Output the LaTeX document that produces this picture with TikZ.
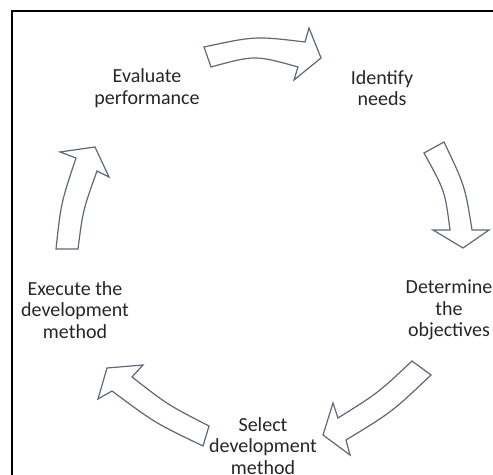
\documentclass[tikz,border=0pt]{standalone}
\usepackage{fontspec}
\setmainfont{Carlito}
\definecolor{arrowgrey}{HTML}{5E6878}
\definecolor{textgrey}{HTML}{262626}

\begin{document}
\begin{tikzpicture}[x=0.5pt,y=-0.5pt,
  blockarrow/.style={draw=arrowgrey,fill=white,line width=0.6pt,line join=miter},
  stage/.style={align=center,text=textgrey,inner sep=0pt,
    font=\fontsize{10}{10.8}\selectfont}]
\useasboundingbox (0,0) rectangle (493,475);
\clip (0,0) rectangle (493,475);
\draw[line width=1pt] (12,11) rectangle (540,520);
% the five stages
\node[stage] (evaluate)  at (147,88)  {Evaluate\\performance};
\node[stage] (identify)  at (382,88)  {Identify\\needs};
\node[stage] (determine) at (449,310) {Determine\\the\\objectives};
\node[stage] (select)    at (263,446) {Select\\development\\method};
\node[stage] (execute)   at (75,310)  {Execute the\\development\\method};
% block arrows round the cycle
\filldraw[blockarrow] (204,47) .. controls (255,36) .. (305,42) -- (309,28)
  -- (321,58) -- (294,80) -- (298,67) .. controls (255,55) .. (211,67) -- cycle;
\filldraw[blockarrow] (444,142) .. controls (465,186) .. (472,230) -- (489,230)
  -- (463,248) -- (433,230) -- (450,230) .. controls (445,191) .. (424,153) -- cycle;
\filldraw[blockarrow] (431,375) .. controls (392,412) .. (346,440) -- (350,455)
  -- (323,435) -- (333,403) -- (338,418) .. controls (378,393) .. (412,361) -- cycle;
\filldraw[blockarrow] (203,446) .. controls (155,423) .. (112,391) -- (98,399)
  -- (107,368) -- (143,365) -- (132,377) .. controls (168,405) .. (209,426) -- cycle;
\filldraw[blockarrow] (56,249) .. controls (61,203) .. (76,158) -- (60,152)
  -- (95,147) -- (109,177) -- (97,171) .. controls (83,210) .. (78,249) -- cycle;
\end{tikzpicture}
\end{document}
